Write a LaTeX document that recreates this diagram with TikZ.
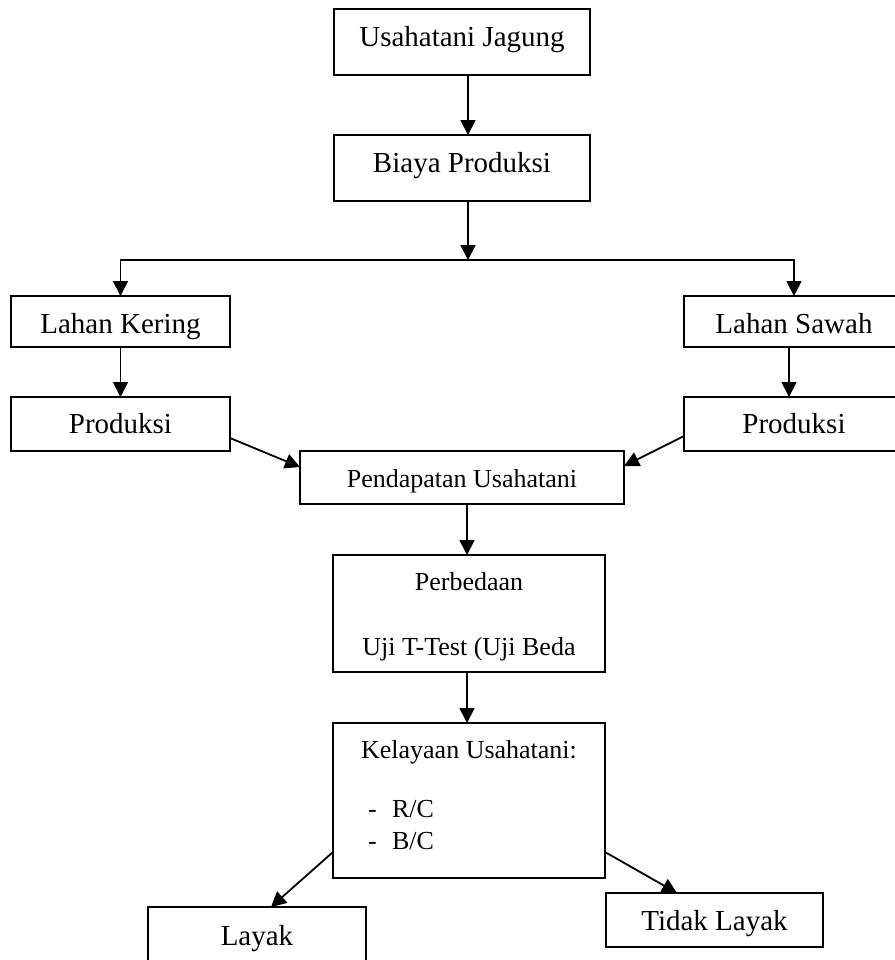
\documentclass[tikz,border=0pt]{standalone}
\usepackage{fontspec}
\setmainfont{Liberation Serif}
\usetikzlibrary{arrows.meta,positioning}
\tikzset{
  bx/.style = {draw, line width=0.9pt, rectangle, inner sep=0pt, outer sep=0pt, align=center, text depth=0pt, font=\fontsize{14.5}{17}\selectfont},
  sbx/.style = {bx, font=\fontsize{13}{16}\selectfont},
  arrow/.style = {line width=0.9pt, -{Triangle[length=7.5pt,width=7.5pt]}}
}

\begin{document}
\begin{tikzpicture}
        \useasboundingbox (0,0) rectangle (447.5pt,-480pt);
        \node[bx, minimum width=128pt, minimum height=33pt, text height=4pt] (usaha) at (231pt,-21pt) {Usahatani Jagung};
        \node[bx, minimum width=128pt, minimum height=33pt, text height=4pt, below=30pt of usaha] (biaya) {Biaya Produksi};
        \coordinate (split) at (234pt,-130pt);
        \node[bx, minimum width=109.5pt, minimum height=25.5pt, text height=12pt, below left=47.5pt and 52pt of biaya] (kering) {Lahan Kering};
        \node[bx, minimum width=110pt, minimum height=25.5pt, text height=12pt, below right=47.5pt and 47pt of biaya] (sawah) {Lahan Sawah};
        \node[bx, minimum width=109.5pt, minimum height=27pt, text height=9pt, below=25pt of kering] (prodk) {Produksi};
        \node[bx, minimum width=110pt, minimum height=27pt, text height=9pt, below=25pt of sawah] (prods) {Produksi};
        \node[sbx, minimum width=162pt, minimum height=26.5pt, text height=9.5pt, below=125pt of biaya] (pend) {Pendapatan Usahatani};
        \node[sbx, minimum width=136pt, minimum height=58.5pt, text height=, text depth=, below=25.5pt of pend, xshift=3.5pt] (beda) {\rule{0pt}{12pt}Perbedaan\\[16.5pt]Uji T-Test (Uji Beda};
        \node[sbx, minimum width=136pt, minimum height=77.5pt, text height=, text depth=, below=25.5pt of beda] (kel) {Kelayaan Usahatani:\\[13.5pt]\makebox[108pt][l]{\hspace{3.5pt}-\hspace{7.7pt}R/C}\\\makebox[108pt][l]{\hspace{3.5pt}-\hspace{7.7pt}B/C}\\[-10pt]\mbox{}};
        \node[bx, minimum width=109pt, minimum height=27.5pt, text height=10.5pt, below=14.5pt of kel, xshift=-106pt] (layak) {Layak};
        \node[bx, minimum width=108.5pt, minimum height=27pt, text height=10pt, below=7.5pt of kel, xshift=122.75pt] (tlayak) {Tidak Layak};
        \draw[arrow] ([xshift=3pt]usaha.south) -- ([xshift=3pt]biaya.north);
        \draw[arrow] ([xshift=3pt]biaya.south) -- (split);
        \draw[arrow] (split) -| (kering);
        \draw[arrow] (split) -| (sawah);
        \draw[arrow] (kering) -- (prodk);
        \draw[arrow] ([xshift=-2.5pt]sawah.south) -- ([xshift=-2.5pt]prods.north);
        \draw[arrow] ([yshift=-7pt]prodk.east) -- ([yshift=5.25pt]pend.west);
        \draw[arrow] ([yshift=-6pt]prods.west) -- ([yshift=5.75pt]pend.east);
        \draw[arrow] ([xshift=2.5pt]pend.south) -- ([xshift=-1pt]beda.north);
        \draw[arrow] ([xshift=-1pt]beda.south) -- ([xshift=-1pt]kel.north);
        \draw[arrow] ([yshift=-25.75pt]kel.west) -- ([xshift=7pt]layak.north);
        \draw[arrow] ([yshift=-25.75pt]kel.east) -- ([xshift=-18.75pt]tlayak.north);
    \end{tikzpicture}
\end{document}
